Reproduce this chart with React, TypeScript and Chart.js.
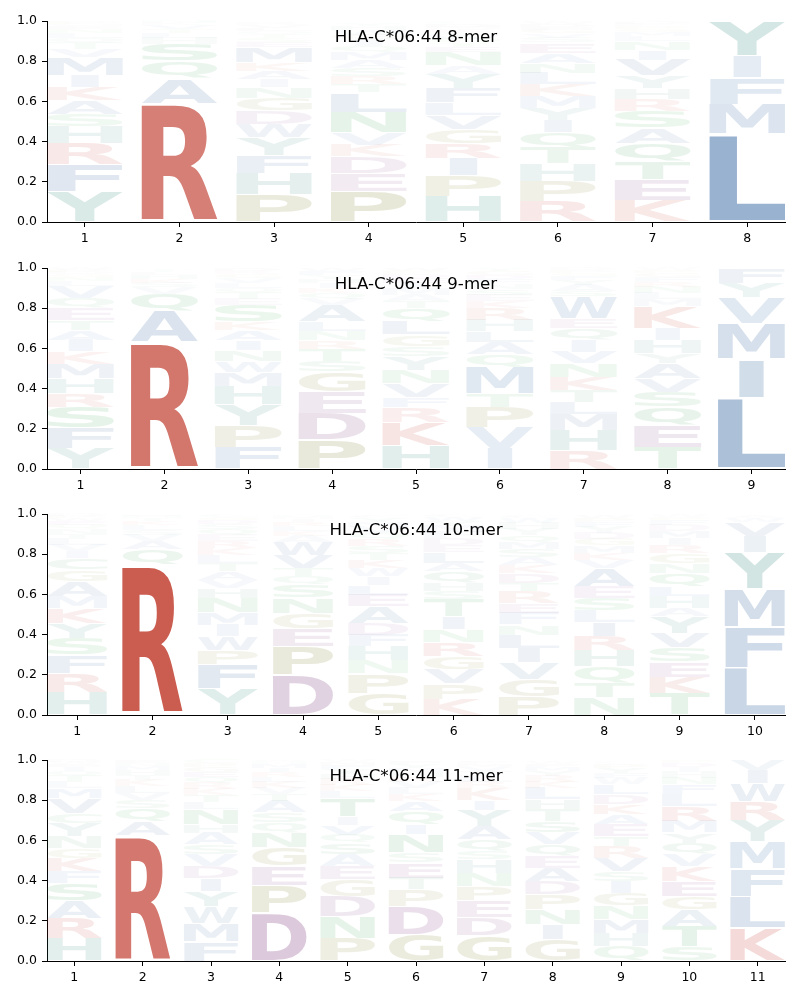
import React, { useEffect, useRef } from "react";
import { Chart, registerables } from "chart.js";

Chart.register(...registerables);

type Col = [string, number][];

const yTicks = [0, 0.2, 0.4, 0.6, 0.8, 1.0];

const title8 = "HLA-C*06:44 8-mer";
const positions8 = [1, 2, 3, 4, 5, 6, 7, 8];
const mer8: Col[] = [
  [["Y", .15], ["F", .135], ["R", .105], ["H", .085], ["S", .06], ["A", .068], ["K", .068], ["I", .06], ["M", .09], ["V", .04], ["T", .03], ["Q", .025], ["L", .025], ["N", .02], ["E", .015], ["G", .01], ["P", .01]],
  [["R", .59], ["A", .125], ["Q", .085], ["S", .085], ["H", .03], ["L", .025], ["T", .02], ["V", .02], ["K", .01], ["N", .01]],
  [["P", .136], ["H", .106], ["F", .088], ["Y", .089], ["W", .069], ["D", .066], ["G", .063], ["N", .053], ["I", .04], ["A", .042], ["K", .042], ["M", .075], ["E", .025], ["S", .02], ["T", .02], ["Q", .015], ["L", .015], ["V", .015], ["R", .01]],
  [["P", .153], ["E", .09], ["D", .083], ["K", .058], ["V", .06], ["N", .102], ["L", .097], ["T", .042], ["R", .042], ["S", .04], ["A", .04], ["M", .04], ["Q", .03], ["I", .03], ["G", .025], ["W", .025], ["H", .02], ["Y", .015]],
  [["H", .128], ["P", .103], ["I", .086], ["R", .073], ["G", .073], ["V", .069], ["L", .061], ["F", .072], ["Y", .072], ["A", .04], ["N", .068], ["E", .025], ["T", .02], ["Q", .02], ["W", .02], ["S", .015], ["K", .015], ["M", .01], ["D", .015], ["C", .01]],
  [["R", .103], ["P", .1], ["H", .086], ["T", .08], ["Q", .075], ["I", .063], ["Y", .061], ["M", .058], ["K", .058], ["L", .058], ["N", .05], ["A", .05], ["E", .05], ["S", .025], ["V", .02], ["G", .02], ["F", .015], ["D", .015], ["W", .01]],
  [["K", .106], ["E", .104], ["T", .091], ["Q", .091], ["A", .075], ["S", .083], ["R", .061], ["H", .055], ["Y", .061], ["V", .08], ["I", .05], ["N", .041], ["L", .025], ["M", .02], ["G", .015], ["P", .015], ["F", .012], ["D", .01]],
  [["L", .438], ["M", .148], ["F", .131], ["I", .109], ["Y", .171]],
];

const title9 = "HLA-C*06:44 9-mer";
const positions9 = [1, 2, 3, 4, 5, 6, 7, 8, 9];
const mer9: Col[] = [
  [["Y", .103], ["F", .1], ["S", .105], ["R", .067], ["H", .075], ["M", .072], ["K", .062], ["I", .058], ["A", .05], ["T", .05], ["E", .058], ["Q", .05], ["V", .058], ["L", .025], ["N", .02], ["G", .015], ["D", .012], ["P", .01], ["W", .01]],
  [["R", .632], ["A", .153], ["Q", .087], ["V", .03], ["S", .025], ["K", .02], ["H", .02], ["L", .015], ["T", .01], ["N", .008]],
  [["F", .108], ["P", .108], ["Y", .103], ["H", .092], ["M", .068], ["W", .057], ["N", .055], ["I", .05], ["A", .05], ["K", .042], ["S", .082], ["E", .03], ["T", .03], ["Q", .025], ["L", .025], ["V", .025], ["G", .02], ["R", .015], ["D", .015]],
  [["P", .145], ["D", .133], ["E", .105], ["G", .1], ["S", .053], ["T", .062], ["R", .043], ["N", .045], ["L", .047], ["A", .082], ["V", .03], ["Q", .03], ["K", .025], ["I", .025], ["H", .02], ["Y", .02], ["F", .02], ["W", .015]],
  [["H", .117], ["K", .117], ["R", .075], ["F", .05], ["V", .067], ["N", .067], ["Y", .067], ["S", .05], ["G", .058], ["L", .067], ["Q", .067], ["T", .035], ["A", .03], ["M", .03], ["I", .03], ["E", .025], ["D", .02], ["P", .015], ["W", .015]],
  [["I", .103], ["V", .105], ["P", .1], ["T", .067], ["M", .133], ["Q", .062], ["A", .06], ["L", .053], ["H", .058], ["R", .058], ["K", .035], ["E", .03], ["S", .03], ["N", .025], ["F", .025], ["D", .02], ["G", .02], ["Y", .015]],
  [["R", .092], ["H", .1], ["M", .078], ["L", .063], ["T", .058], ["K", .067], ["N", .067], ["V", .058], ["I", .058], ["Q", .058], ["E", .05], ["W", .108], ["S", .03], ["A", .03], ["Y", .025], ["F", .02], ["G", .015], ["P", .012], ["D", .01]],
  [["T", .108], ["E", .108], ["Q", .092], ["S", .075], ["V", .067], ["A", .075], ["Y", .05], ["H", .067], ["I", .058], ["K", .108], ["M", .035], ["L", .03], ["N", .03], ["R", .025], ["F", .025], ["G", .02], ["P", .015], ["W", .012]],
  [["L", .355], ["I", .193], ["M", .173], ["V", .132], ["Y", .072], ["F", .075]],
];

const title10 = "HLA-C*06:44 10-mer";
const positions10 = [1, 2, 3, 4, 5, 6, 7, 8, 9, 10];
const mer10: Col[] = [
  [["H", .113], ["R", .096], ["F", .091], ["S", .083], ["Y", .075], ["K", .075], ["M", .058], ["A", .075], ["G", .058], ["C", .058], ["I", .033], ["V", .03], ["L", .03], ["T", .025], ["N", .025], ["Q", .02], ["E", .02], ["W", .015], ["P", .012], ["D", .01]],
  [["R", .748], ["Q", .075], ["A", .041], ["V", .03], ["S", .025], ["L", .025], ["K", .02], ["T", .015], ["H", .012], ["E", .009]],
  [["Y", .129], ["F", .124], ["P", .071], ["W", .066], ["I", .058], ["M", .061], ["N", .071], ["H", .05], ["V", .04], ["A", .043], ["T", .04], ["L", .04], ["K", .035], ["R", .035], ["E", .03], ["Q", .03], ["S", .025], ["D", .02], ["G", .015], ["C", .015]],
  [["D", .2], ["P", .141], ["E", .091], ["G", .075], ["N", .075], ["S", .066], ["Q", .041], ["T", .041], ["V", .066], ["W", .066], ["A", .03], ["K", .025], ["L", .025], ["R", .02], ["I", .015], ["M", .012], ["H", .009]],
  [["G", .109], ["P", .096], ["N", .065], ["H", .071], ["F", .058], ["D", .058], ["A", .083], ["E", .058], ["L", .05], ["I", .041], ["W", .04], ["K", .04], ["T", .035], ["S", .035], ["R", .035], ["Q", .03], ["V", .03], ["M", .025], ["Y", .02], ["C", .015]],
  [["K", .08], ["P", .075], ["V", .071], ["G", .066], ["R", .07], ["N", .063], ["I", .063], ["T", .086], ["S", .041], ["H", .041], ["Q", .058], ["A", .041], ["L", .054], ["E", .035], ["D", .035], ["F", .03], ["M", .03], ["Y", .025], ["W", .02], ["C", .015]],
  [["P", .093], ["G", .086], ["V", .083], ["I", .071], ["L", .066], ["N", .05], ["F", .058], ["E", .05], ["R", .058], ["T", .041], ["D", .05], ["K", .04], ["A", .04], ["S", .04], ["M", .035], ["Q", .035], ["Y", .03], ["H", .03], ["W", .025], ["C", .015]],
  [["N", .085], ["T", .075], ["Q", .083], ["H", .078], ["R", .071], ["I", .07], ["L", .058], ["S", .063], ["E", .058], ["A", .091], ["V", .04], ["K", .035], ["M", .035], ["G", .035], ["D", .03], ["Y", .03], ["F", .025], ["P", .02], ["W", .015]],
  [["T", .106], ["K", .083], ["E", .075], ["S", .073], ["V", .071], ["Y", .083], ["A", .041], ["H", .058], ["L", .05], ["Q", .066], ["N", .05], ["G", .05], ["R", .04], ["I", .035], ["M", .035], ["D", .03], ["F", .025], ["P", .015], ["W", .012]],
  [["L", .235], ["F", .204], ["M", .189], ["Y", .182], ["I", .081], ["V", .07], ["W", .02], ["A", .012]],
];

const title11 = "HLA-C*06:44 11-mer";
const positions11 = [1, 2, 3, 4, 5, 6, 7, 8, 9, 10, 11];
const mer11: Col[] = [
  [["H", .114], ["R", .1], ["A", .086], ["S", .088], ["F", .058], ["K", .066], ["G", .05], ["N", .058], ["Y", .066], ["C", .05], ["V", .075], ["M", .05], ["L", .03], ["T", .03], ["Q", .025], ["I", .02], ["E", .015], ["W", .01], ["D", .01]],
  [["R", .625], ["A", .07], ["Q", .066], ["S", .04], ["V", .035], ["L", .035], ["K", .03], ["T", .025], ["H", .025], ["M", .02], ["N", .015], ["E", .014]],
  [["F", .098], ["M", .091], ["W", .083], ["Y", .075], ["I", .063], ["D", .061], ["V", .058], ["S", .05], ["A", .058], ["H", .041], ["N", .075], ["L", .035], ["T", .035], ["K", .03], ["R", .03], ["Q", .03], ["E", .025], ["G", .025], ["P", .02], ["C", .017]],
  [["D", .239], ["P", .138], ["E", .095], ["G", .091], ["N", .075], ["Q", .05], ["S", .05], ["A", .058], ["T", .035], ["V", .03], ["K", .03], ["L", .025], ["R", .025], ["I", .02], ["M", .02], ["H", .012], ["W", .009]],
  [["P", .114], ["N", .108], ["D", .1], ["G", .083], ["E", .066], ["A", .058], ["S", .058], ["Q", .041], ["V", .05], ["I", .041], ["T", .091], ["L", .035], ["K", .03], ["R", .03], ["H", .025], ["Y", .025], ["F", .02], ["M", .015], ["W", .01]],
  [["G", .131], ["D", .141], ["P", .083], ["T", .058], ["E", .075], ["S", .05], ["N", .091], ["I", .05], ["Q", .066], ["A", .05], ["K", .035], ["L", .03], ["V", .03], ["R", .025], ["H", .025], ["M", .02], ["Y", .02], ["F", .015]],
  [["G", .128], ["D", .091], ["E", .083], ["P", .07], ["N", .066], ["H", .066], ["S", .041], ["Q", .058], ["A", .066], ["Y", .083], ["I", .05], ["K", .058], ["R", .03], ["L", .03], ["T", .025], ["V", .02], ["M", .015], ["F", .01], ["W", .009]],
  [["G", .106], ["I", .075], ["N", .075], ["P", .075], ["D", .066], ["A", .066], ["E", .058], ["Q", .058], ["V", .058], ["S", .058], ["T", .058], ["H", .05], ["L", .058], ["K", .03], ["R", .03], ["Y", .025], ["M", .02], ["F", .015], ["W", .01], ["C", .009]],
  [["Q", .073], ["H", .066], ["M", .07], ["N", .066], ["G", .063], ["I", .058], ["S", .05], ["V", .066], ["R", .058], ["T", .05], ["E", .058], ["A", .05], ["K", .05], ["D", .05], ["L", .05], ["W", .03], ["F", .025], ["Y", .025], ["P", .02], ["C", .012]],
  [["S", .073], ["T", .1], ["A", .083], ["G", .066], ["E", .075], ["K", .075], ["V", .058], ["Q", .058], ["Y", .05], ["M", .058], ["R", .075], ["L", .058], ["F", .05], ["N", .03], ["H", .03], ["I", .025], ["D", .02], ["P", .015]],
  [["K", .164], ["L", .158], ["F", .138], ["M", .133], ["Y", .106], ["R", .093], ["W", .09], ["I", .066], ["V", .053]],
];

// Colour groups
const RED = [192, 57, 43];
const BLUE = [44, 95, 156];
const TEAL = [30, 125, 110];
const OLIVE = [120, 120, 30];
const PURPLE = [120, 50, 120];
const GREEN = [30, 150, 60];
const groupOf: Record<string, number[]> = {
  R: RED, K: RED,
  L: BLUE, M: BLUE, F: BLUE, I: BLUE, V: BLUE, W: BLUE, A: BLUE,
  Y: TEAL, H: TEAL,
  P: OLIVE, G: OLIVE,
  D: PURPLE, E: PURPLE,
  S: GREEN, T: GREEN, N: GREEN, Q: GREEN, C: GREEN,
};

function letterColor(ch: string, h: number) {
  const c = groupOf[ch] || BLUE;
  const a = Math.min(1, h * 1.1);
  return `rgba(${c[0]},${c[1]},${c[2]},${a})`;
}

const LETTER_WIDTH = 0.8;
const VPAD = 0.05;
const FONT_FAMILY = "'DejaVu Sans', sans-serif";

const logoPlugin = {
  id: "logo",
  afterDatasetsDraw(chart: any, _args: any, opts: any) {
    const { ctx, chartArea } = chart;
    const xs = chart.scales.x;
    const ys = chart.scales.y;
    const cols: Col[] = opts.columns;
    const positions: number[] = opts.positions;
    ctx.save();
    ctx.font = `bold 200px ${FONT_FAMILY}`;
    ctx.textAlign = "left";
    ctx.textBaseline = "alphabetic";
    const em = ctx.measureText("E");
    const eW = em.actualBoundingBoxLeft + em.actualBoundingBoxRight;
    cols.forEach((col, i) => {
      const pos = positions[i];
      const xl = xs.getPixelForValue(pos - LETTER_WIDTH / 2);
      const xr = xs.getPixelForValue(pos + LETTER_WIDTH / 2);
      const boxW = xr - xl;
      const cx = (xl + xr) / 2;
      let base = 0;
      for (const [ch, h] of col) {
        const y0 = base + (h * VPAD) / 2;
        const y1 = base + h - (h * VPAD) / 2;
        const pTop = ys.getPixelForValue(y1);
        const pBot = ys.getPixelForValue(y0);
        const m = ctx.measureText(ch);
        const gw = m.actualBoundingBoxLeft + m.actualBoundingBoxRight;
        const gh = m.actualBoundingBoxAscent + m.actualBoundingBoxDescent;
        const sx = Math.min(boxW / gw, boxW / eW);
        const sy = (pBot - pTop) / gh;
        ctx.save();
        ctx.translate(cx - (gw * sx) / 2, pTop);
        ctx.scale(sx, sy);
        ctx.fillStyle = letterColor(ch, h);
        ctx.fillText(ch, m.actualBoundingBoxLeft, m.actualBoundingBoxAscent);
        ctx.restore();
        base += h;
      }
    });
    ctx.font = `16.67px ${FONT_FAMILY}`;
    ctx.fillStyle = "#000";
    ctx.textAlign = "center";
    ctx.textBaseline = "alphabetic";
    ctx.fillText(opts.title, (chartArea.left + chartArea.right) / 2, chartArea.top + 20.7);
    ctx.restore();
  },
};

function LogoChart({ columns, positions, title, top }: { columns: Col[]; positions: number[]; title: string; top: number }) {
  const ref = useRef<HTMLCanvasElement | null>(null);
  useEffect(() => {
    if (!ref.current) return;
    const n = positions.length;
    const tickFont = { family: FONT_FAMILY, size: 12.5 };
    const chart = new Chart(ref.current, {
      type: "scatter",
      data: { datasets: [{ data: [] }] },
      plugins: [logoPlugin],
      options: {
        animation: false,
        responsive: false,
        devicePixelRatio: 1,
        layout: { padding: { left: 0, right: 15, top: 21, bottom: 0 } },
        plugins: {
          legend: { display: false },
          tooltip: { enabled: false },
          title: { display: false },
          logo: { columns, positions, title },
        } as any,
        scales: {
          x: {
            type: "linear",
            min: positions[0] - 0.4,
            max: positions[n - 1] + 0.4,
            afterBuildTicks: (s: any) => {
              s.ticks = positions.map((v) => ({ value: v }));
            },
            afterFit: (s: any) => {
              s.height = 24;
            },
            grid: { drawOnChartArea: false, drawTicks: true, tickLength: 5, color: "#000", lineWidth: 1 },
            border: { display: true, color: "#000", width: 1 },
            ticks: {
              font: tickFont,
              color: "#000",
              padding: 4,
              maxRotation: 0,
              autoSkip: false,
              callback: (v: any) => String(v),
            },
          },
          y: {
            type: "linear",
            min: 0,
            max: 1,
            afterBuildTicks: (s: any) => {
              s.ticks = yTicks.map((v) => ({ value: v }));
            },
            afterFit: (s: any) => {
              s.width = 47;
            },
            grid: { drawOnChartArea: false, drawTicks: true, tickLength: 5, color: "#000", lineWidth: 1 },
            border: { display: true, color: "#000", width: 1 },
            ticks: {
              font: tickFont,
              color: "#000",
              padding: 5,
              callback: (v: any) => Number(v).toFixed(1),
            },
          },
        },
      } as any,
    });
    return () => chart.destroy();
  }, [columns, positions, title]);
  return (
    <div style={{ position: "absolute", left: 0, top, width: 800, height: 246 }}>
      <canvas ref={ref} width={800} height={246} style={{ display: "block", width: 800, height: 246 }} />
    </div>
  );
}

export default function App() {
  return (
    <div style={{ position: "absolute", left: 0, top: 0, width: 800, height: 1000, background: "#fff" }}>
      <LogoChart columns={mer8} positions={positions8} title={title8} top={0} />
      <LogoChart columns={mer9} positions={positions9} title={title9} top={247} />
      <LogoChart columns={mer10} positions={positions10} title={title10} top={493} />
      <LogoChart columns={mer11} positions={positions11} title={title11} top={739} />
    </div>
  );
}
